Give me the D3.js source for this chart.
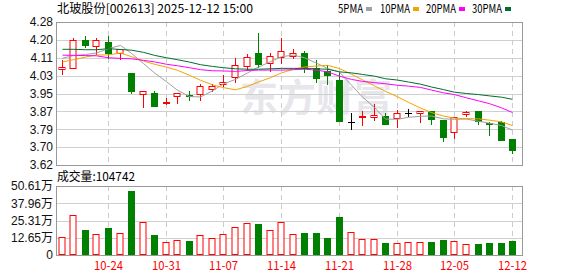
<!DOCTYPE html>
<html><head><meta charset="utf-8">
<script src="https://cdn.jsdelivr.net/npm/d3@7/dist/d3.min.js"></script>
<style>html,body{margin:0;padding:0;background:#fff;}svg{display:block;}</style>
</head><body>
<svg id="chart" width="578" height="276"></svg>
<script>
const dates = ["10-20","10-21","10-22","10-23","10-24","10-27","10-28","10-29","10-30","10-31",
"11-03","11-04","11-05","11-06","11-07","11-10","11-11","11-12","11-13","11-14",
"11-17","11-18","11-19","11-20","11-21","11-24","11-25","11-26","11-27","11-28",
"12-01","12-02","12-03","12-04","12-05","12-08","12-09","12-10","12-11","12-12"];
const openP  = [4.064,4.066,4.197,4.168,4.188,4.138,4.045,3.946,3.954,3.905,3.939,3.941,3.946,3.972,3.994,4.026,4.077,4.137,4.089,4.117,4.125,4.137,4.066,4.052,4.014,3.820,3.840,3.840,3.845,3.837,3.862,3.862,3.869,3.829,3.771,3.854,3.869,3.813,3.820,3.740];
const highP  = [4.103,4.206,4.215,4.206,4.215,4.156,4.045,3.960,3.960,3.929,3.952,3.960,3.992,3.995,4.034,4.114,4.134,4.228,4.137,4.206,4.154,4.146,4.106,4.083,4.049,3.862,3.868,3.903,3.860,3.872,3.880,3.868,3.869,3.829,3.840,3.869,3.869,3.820,3.823,3.740];
const lowP   = [4.037,4.066,4.166,4.126,4.115,4.106,3.954,3.885,3.892,3.895,3.903,3.922,3.914,3.955,3.980,3.999,4.055,4.072,4.051,4.088,4.108,4.049,4.003,3.995,3.822,3.785,3.802,3.825,3.811,3.791,3.845,3.812,3.811,3.732,3.742,3.843,3.811,3.760,3.734,3.675];
const closeP = [4.071,4.195,4.175,4.195,4.138,4.154,3.963,3.960,3.892,3.911,3.952,3.939,3.983,3.983,4.002,4.083,4.120,4.088,4.122,4.145,4.135,4.068,4.023,4.037,3.822,3.820,3.844,3.849,3.811,3.862,3.862,3.868,3.834,3.751,3.840,3.863,3.823,3.808,3.734,3.689];
const ma5  = [4.113,4.125,4.130,4.137,4.157,4.172,4.135,4.088,4.045,4.004,3.965,3.936,3.934,3.962,3.995,4.015,4.045,4.072,4.097,4.120,4.127,4.115,4.090,4.066,4.049,3.988,3.934,3.885,3.832,3.831,3.840,3.845,3.846,3.833,3.831,3.832,3.822,3.813,3.802,3.781];
const ma10 = [4.096,4.106,4.118,4.128,4.128,4.137,4.120,4.100,4.085,4.072,4.057,4.034,4.011,3.990,3.977,3.967,3.983,4.003,4.023,4.045,4.062,4.072,4.077,4.080,4.065,4.039,4.013,3.985,3.960,3.935,3.909,3.883,3.862,3.846,3.836,3.834,3.833,3.827,3.819,3.802];
const ma20 = [4.127,4.126,4.125,4.124,4.115,4.112,4.110,4.103,4.096,4.085,4.078,4.069,4.060,4.055,4.054,4.052,4.056,4.058,4.058,4.058,4.060,4.062,4.058,4.050,4.030,4.015,4.006,4.000,3.995,3.988,3.984,3.978,3.966,3.953,3.945,3.930,3.916,3.903,3.884,3.862];
const ma30 = [4.154,4.154,4.152,4.152,4.157,4.153,4.150,4.140,4.126,4.115,4.106,4.095,4.083,4.075,4.069,4.064,4.062,4.062,4.064,4.066,4.066,4.066,4.064,4.062,4.050,4.045,4.038,4.030,4.018,4.012,4.003,3.993,3.980,3.968,3.956,3.950,3.945,3.939,3.933,3.923];
const volume = [129800,291000,183000,152000,198000,159000,469000,240000,147000,93000,108000,103000,144000,122000,152000,203000,232000,227000,181000,240000,154000,161000,161000,122000,279000,166000,115000,115000,88000,88000,95000,95000,95000,110000,103000,81000,81000,88000,88000,104742];
const priceTickLabels = ["3.62","3.70","3.79","3.87","3.95","4.03","4.11","4.20","4.28"];
const volTickLabels = ["0","12.65万","25.31万","37.96万","50.61万"];
const xTickDates = ["10-24","10-31","11-07","11-14","11-21","11-28","12-05","12-12"];
const maNames = ["5PMA","10PMA","20PMA","30PMA"];
const maColors = ["#a0a0a0","#f5a300","#ff00ff","#006f2e"];
const titleText = "北玻股份[002613] 2025-12-12 15:00";
const volLabelText = "成交量:104742";

const svg = d3.select("#chart");
const L = 56, R = 522;
const pTop = 22, pBot = 165, vTop = 186, vBot = 255;
const RED = "#ff0000", GREEN = "#008000";

const x = d3.scaleBand().domain(dates).range([L, 518]).padding(0);
const cx = d => Math.round(x(d) + x.bandwidth()/2);
const pMin = 3.62, pMax = 4.28;
const y = d3.scaleLinear().domain([pMin, pMax]).range([pBot, pTop]);
const vMax = 506100;
const yv = d3.scaleLinear().domain([0, vMax]).range([vBot, vTop]);

const priceTickVals = priceTickLabels.map((_, i) => pMin + i*(pMax-pMin)/(priceTickLabels.length-1));
const volTickVals = volTickLabels.map((_, i) => i*vMax/(volTickLabels.length-1));

const sans = "'Liberation Sans', Arial, 'Noto Sans CJK SC', sans-serif";
const cjk = "'Noto Sans CJK SC', 'Liberation Sans', sans-serif";

// watermark
svg.append("text").attr("x", 240).attr("y", 111).attr("font-family", cjk)
  .attr("font-size", 38).attr("font-weight", "bold").attr("fill", "#e6e6eb")
  .text("东方财富");

function panel(top, bot, tickVals, scale, labels) {
  const g = svg.append("g");
  // horizontal grid
  g.selectAll("line.h").data(tickVals).join("line")
    .attr("x1", L).attr("x2", R)
    .attr("y1", d => Math.round(scale(d)) + 0.5).attr("y2", d => Math.round(scale(d)) + 0.5)
    .attr("stroke", "#d0d0d0").attr("stroke-width", 1);
  // vertical dashed
  g.selectAll("line.v").data(xTickDates).join("line")
    .attr("x1", d => cx(d) + 0.5).attr("x2", d => cx(d) + 0.5)
    .attr("y1", top).attr("y2", bot)
    .attr("stroke", "#cccccc").attr("stroke-dasharray", "5,4");
  // border
  g.append("rect").attr("x", L + 0.5).attr("y", top + 0.5)
    .attr("width", R - L).attr("height", bot - top)
    .attr("fill", "none").attr("stroke", "#999");
  // axis labels
  const ax = d3.axisLeft(scale).tickValues(tickVals).tickSize(0).tickPadding(3)
    .tickFormat((d, i) => labels[i]);
  const a = svg.append("g").attr("transform", `translate(${L},0)`).call(ax);
  a.select(".domain").remove();
  a.selectAll("text").attr("font-family", sans).attr("font-size", 12).attr("fill", "#111");
}

panel(pTop, pBot, priceTickVals, y, priceTickLabels);
panel(vTop, vBot, volTickVals, yv, volTickLabels);

// clip
svg.append("clipPath").attr("id", "pclip").append("rect")
  .attr("x", L + 1).attr("y", pTop + 1).attr("width", R - L - 1).attr("height", pBot - pTop - 1);

const candles = dates.map((d, i) => ({d, o: openP[i], h: highP[i], l: lowP[i], c: closeP[i], v: volume[i]}));
const colorOf = k => k.c > k.o + 1e-9 ? RED : (k.c < k.o - 1e-9 ? GREEN : "#000");

const cg = svg.append("g").attr("clip-path", "url(#pclip)");
const hw = 3;
candles.forEach(k => {
  const xc = cx(k.d) + 0.5;
  const col = colorOf(k);
  const yT = Math.round(y(Math.max(k.o, k.c)));
  const yB = Math.round(y(Math.min(k.o, k.c)));
  const yH = Math.round(y(k.h)), yL = Math.round(y(k.l));
  if (col === RED) {
    if (yH < yT) cg.append("line").attr("x1", xc).attr("x2", xc).attr("y1", yH).attr("y2", yT).attr("stroke", RED);
    if (yL > yB) cg.append("line").attr("x1", xc).attr("x2", xc).attr("y1", yB + 1).attr("y2", yL).attr("stroke", RED);
    if (yB - yT >= 2) {
      cg.append("rect").attr("x", xc - hw - 0.5 + 0.5 - 0.5).attr("y", yT + 0.5)
        .attr("width", hw*2).attr("height", yB - yT)
        .attr("fill", "#fff").attr("stroke", RED);
    } else {
      cg.append("rect").attr("x", xc - hw - 0.5).attr("y", yT)
        .attr("width", hw*2 + 1).attr("height", Math.max(2, yB - yT + 1)).attr("fill", RED);
    }
  } else {
    cg.append("line").attr("x1", xc).attr("x2", xc).attr("y1", yH).attr("y2", yL + 1).attr("stroke", col);
    cg.append("rect").attr("x", xc - hw - 0.5).attr("y", yT)
      .attr("width", hw*2 + 1).attr("height", Math.max(1, yB - yT + 1)).attr("fill", col);
  }
});

// MA lines
const mas = [ma5, ma10, ma20, ma30];
mas.forEach((arr, j) => {
  const line = d3.line().x((v, i) => cx(dates[i]) + 0.5).y(v => y(v));
  cg.append("path").attr("d", line(arr)).attr("fill", "none")
    .attr("stroke", maColors[j]).attr("stroke-width", 1);
});

// volume bars
const vg = svg.append("g");
candles.forEach(k => {
  const xc = cx(k.d) + 0.5;
  const isUp = k.c >= k.o - 1e-9;
  const yT = Math.round(yv(k.v));
  if (isUp) {
    vg.append("rect").attr("x", xc - hw - 0.5 + 0.5 - 0.5).attr("y", yT + 0.5)
      .attr("width", hw*2).attr("height", vBot - yT - 1)
      .attr("fill", "#fff").attr("stroke", RED);
  } else {
    vg.append("rect").attr("x", xc - hw - 0.5).attr("y", yT)
      .attr("width", hw*2 + 1).attr("height", vBot - yT).attr("fill", GREEN);
  }
});

// x labels
svg.append("g").selectAll("text").data(xTickDates).join("text")
  .attr("x", d => cx(d) + 0.5).attr("y", 270).attr("text-anchor", "middle")
  .attr("font-family", cjk).attr("font-size", 12).attr("fill", RED)
  .attr("textLength", 29).attr("lengthAdjust", "spacingAndGlyphs")
  .text(d => d);

// title
svg.append("text").attr("x", 57).attr("y", 13).attr("font-family", cjk).attr("font-size", 12)
  .attr("fill", "#000").attr("textLength", 196).attr("lengthAdjust", "spacingAndGlyphs").text(titleText);
svg.append("text").attr("x", 57).attr("y", 181).attr("font-family", cjk).attr("font-size", 12)
  .attr("fill", "#000").attr("textLength", 78).attr("lengthAdjust", "spacingAndGlyphs").text(volLabelText);

// legend
const legX = [338, 380, 426, 472];
const legW = [25, 30, 30, 30];
maNames.forEach((n, j) => {
  svg.append("text").attr("x", legX[j]).attr("y", 13).attr("font-family", cjk).attr("font-size", 12)
    .attr("fill", "#000").attr("textLength", legW[j]).attr("lengthAdjust", "spacingAndGlyphs").text(n);
  svg.append("rect").attr("x", legX[j] + legW[j] + 3).attr("y", 7).attr("width", 6).attr("height", 4)
    .attr("fill", maColors[j]);
});
</script>
</body></html>
